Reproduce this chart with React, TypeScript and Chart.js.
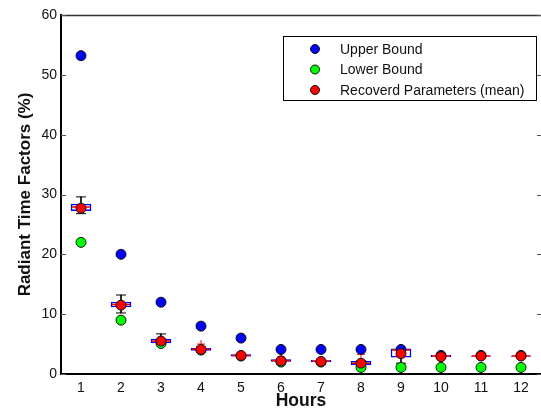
import React, { useEffect, useRef } from "react";
import { Chart, registerables } from "chart.js";

Chart.register(...registerables);

const hours = ["1", "2", "3", "4", "5", "6", "7", "8", "9", "10", "11", "12"];
const upperBound = [53.2, 20, 12, 8, 6, 4.1, 4.1, 4.1, 4.1, 3.1, 3.1, 3.1];
const lowerBound = [22, 9, 5.1, 4, 3, 2, 2, 1.1, 1.1, 1.1, 1.1, 1.1];
const recoveredMean = [27.7, 11.5, 5.5, 4.1, 3.1, 2.2, 2.1, 1.8, 3.4, 2.9, 3.0, 3.0];
const boxQ1 = [27.3, 11.2, 5.2, 3.95, 3.0, 2.1, 2.0, 1.5, 2.8, 2.85, 2.95, 2.95];
const boxQ3 = [28.4, 12.0, 5.85, 4.3, 3.25, 2.4, 2.3, 2.1, 4.2, 3.1, 3.05, 3.05];
const boxMedian = [27.9, 11.6, 5.5, 4.15, 3.1, 2.25, 2.15, 1.8, 4.0, 3.0, 3.0, 3.0];
const whiskerLow = [26.8, 10.2, 5.0, 3.9, 3.0, 2.0, 2.0, 1.4, 1.8, 2.8, 2.95, 2.95];
const whiskerHigh = [29.6, 13.2, 6.7, 4.5, 3.3, 2.5, 2.4, 2.2, 4.2, 3.2, 3.05, 3.05];
const outliers: (number | null)[] = [null, null, null, 5.0, null, 2.8, null, 3.3, null, 2.6, null, null];
const yTicks = [0, 10, 20, 30, 40, 50, 60];

const FONT = "'Liberation Sans', Arial, Helvetica, sans-serif";

const frameAndLegend = {
  id: "frameAndLegend",
  afterDraw(chart: any) {
    const { ctx, chartArea } = chart;
    const { left, right, top } = chartArea;
    const y = chart.scales.y;
    ctx.save();
    // top frame
    ctx.strokeStyle = "#333";
    ctx.lineWidth = 1.5;
    ctx.beginPath();
    ctx.moveTo(left, top + 0.5);
    ctx.lineTo(right, top + 0.5);
    ctx.stroke();
    // inward y ticks
    ctx.lineWidth = 1;
    ctx.strokeStyle = "#555";
    ctx.beginPath();
    for (const v of yTicks) {
      const py = Math.round(y.getPixelForValue(v)) + 0.5;
      ctx.moveTo(left, py);
      ctx.lineTo(left + 5, py);
      ctx.moveTo(right, py);
      ctx.lineTo(right - 4, py);
    }
    ctx.stroke();

    // legend box
    const lx = 283.5, ly = 36.5, lw = 253, lh = 64;
    ctx.fillStyle = "#fff";
    ctx.fillRect(lx, ly, lw, lh);
    ctx.strokeStyle = "#000";
    ctx.lineWidth = 1;
    ctx.strokeRect(lx, ly, lw, lh);
    const entries = chart.data.datasets.filter((d: any) => d.inLegend);
    const rowsY = [50, 70.5, 91];
    entries.forEach((d: any, i: number) => {
      const ry = rowsY[i];
      ctx.beginPath();
      ctx.arc(315, ry - 1, 4.5, 0, Math.PI * 2);
      ctx.fillStyle = d.backgroundColor;
      ctx.fill();
      ctx.strokeStyle = "#111";
      ctx.lineWidth = 1;
      ctx.stroke();
      ctx.fillStyle = "#111";
      ctx.font = `14px ${FONT}`;
      ctx.textBaseline = "middle";
      ctx.textAlign = "left";
      ctx.fillText(d.label, 340, ry);
    });
    ctx.restore();
  },
};

export default function App() {
  const ref = useRef<HTMLCanvasElement | null>(null);
  useEffect(() => {
    document.body.style.margin = "0";
    if (!ref.current) return;
    const pointDs = (label: string, data: (number | null)[], color: string, order: number) => ({
      type: "line" as const,
      label,
      data,
      showLine: false,
      backgroundColor: color,
      borderColor: "#111",
      pointBackgroundColor: color,
      pointBorderColor: "#111",
      pointBorderWidth: 1,
      pointRadius: 5,
      order,
      inLegend: true,
    });
    const lineMark = (label: string, data: (number | null)[], color: string, radius: number, width: number, order: number, style = "line") => ({
      type: "line" as const,
      label,
      data,
      showLine: false,
      pointStyle: style,
      pointRadius: radius,
      pointBorderColor: color,
      pointBackgroundColor: color,
      borderColor: color,
      pointBorderWidth: width,
      order,
    });
    const chart = new Chart(ref.current, {
      type: "bar",
      data: {
        labels: hours,
        datasets: [
          {
            type: "bar",
            label: "whisker",
            data: hours.map((_, i) => [whiskerLow[i], whiskerHigh[i]]),
            backgroundColor: "#000",
            borderWidth: 0,
            barThickness: 1,
            grouped: false,
            order: 20,
          } as any,
          {
            type: "bar",
            label: "box",
            data: hours.map((_, i) => [boxQ1[i], boxQ3[i]]),
            backgroundColor: "#fff",
            borderColor: "#0000ff",
            borderWidth: 1.5,
            borderSkipped: false,
            barThickness: 20,
            grouped: false,
            order: 19,
          } as any,
          lineMark("median", boxMedian, "#ff0000", 9, 1.5, 18),
          lineMark("capLow", whiskerLow, "#000", 5, 1, 18),
          lineMark("capHigh", whiskerHigh, "#000", 5, 1, 18),
          lineMark("outlier", outliers, "#ff0000", 4, 1, 17, "cross"),
          pointDs("Upper Bound", upperBound, "#0000ff", 3),
          pointDs("Lower Bound", lowerBound, "#00ff00", 2),
          pointDs("Recoverd Parameters (mean)", recoveredMean, "#ff0000", 1),
        ] as any,
      },
      options: {
        animation: false,
        responsive: false,
        devicePixelRatio: 1,
        layout: { autoPadding: false, padding: { top: 15, right: 0, left: 0, bottom: 0 } },
        plugins: {
          legend: { display: false },
          tooltip: { enabled: false },
        },
        scales: {
          x: {
            type: "category",
            offset: true,
            grid: { display: false, drawTicks: false },
            border: { display: true, color: "#000", width: 2 },
            ticks: {
              color: "#111",
              font: { family: FONT, size: 14 },
              padding: 6,
              maxRotation: 0,
              autoSkip: false,
            },
            title: {
              display: true,
              text: "Hours",
              color: "#111",
              font: { family: FONT, size: 17.5, weight: "bold" },
              padding: { top: 0, bottom: 0 },
            },
            afterFit: (s: any) => {
              s.height = 38;
              s.paddingLeft = 0;
              s.paddingRight = 0;
            },
          },
          y: {
            type: "linear",
            min: 0,
            max: 60,
            afterBuildTicks: (s: any) => {
              s.ticks = yTicks.map((v) => ({ value: v }));
            },
            grid: { display: false, drawTicks: false },
            border: { display: true, color: "#000", width: 2 },
            ticks: {
              color: "#111",
              font: { family: FONT, size: 14 },
              padding: 4,
            },
            title: {
              display: true,
              text: "Radiant Time Factors (%)",
              color: "#111",
              font: { family: FONT, size: 17, weight: "bold" },
              padding: { top: 15, bottom: 0 },
            },
            afterFit: (s: any) => {
              s.width = 61;
              s.paddingTop = 0;
              s.paddingBottom = 0;
            },
          },
        },
      } as any,
      plugins: [frameAndLegend],
    });
    return () => chart.destroy();
  }, []);
  return (
    <div style={{ position: "absolute", left: 0, top: 0, width: 541, height: 412, background: "#fff" }}>
      <canvas ref={ref} width={541} height={412} />
    </div>
  );
}
